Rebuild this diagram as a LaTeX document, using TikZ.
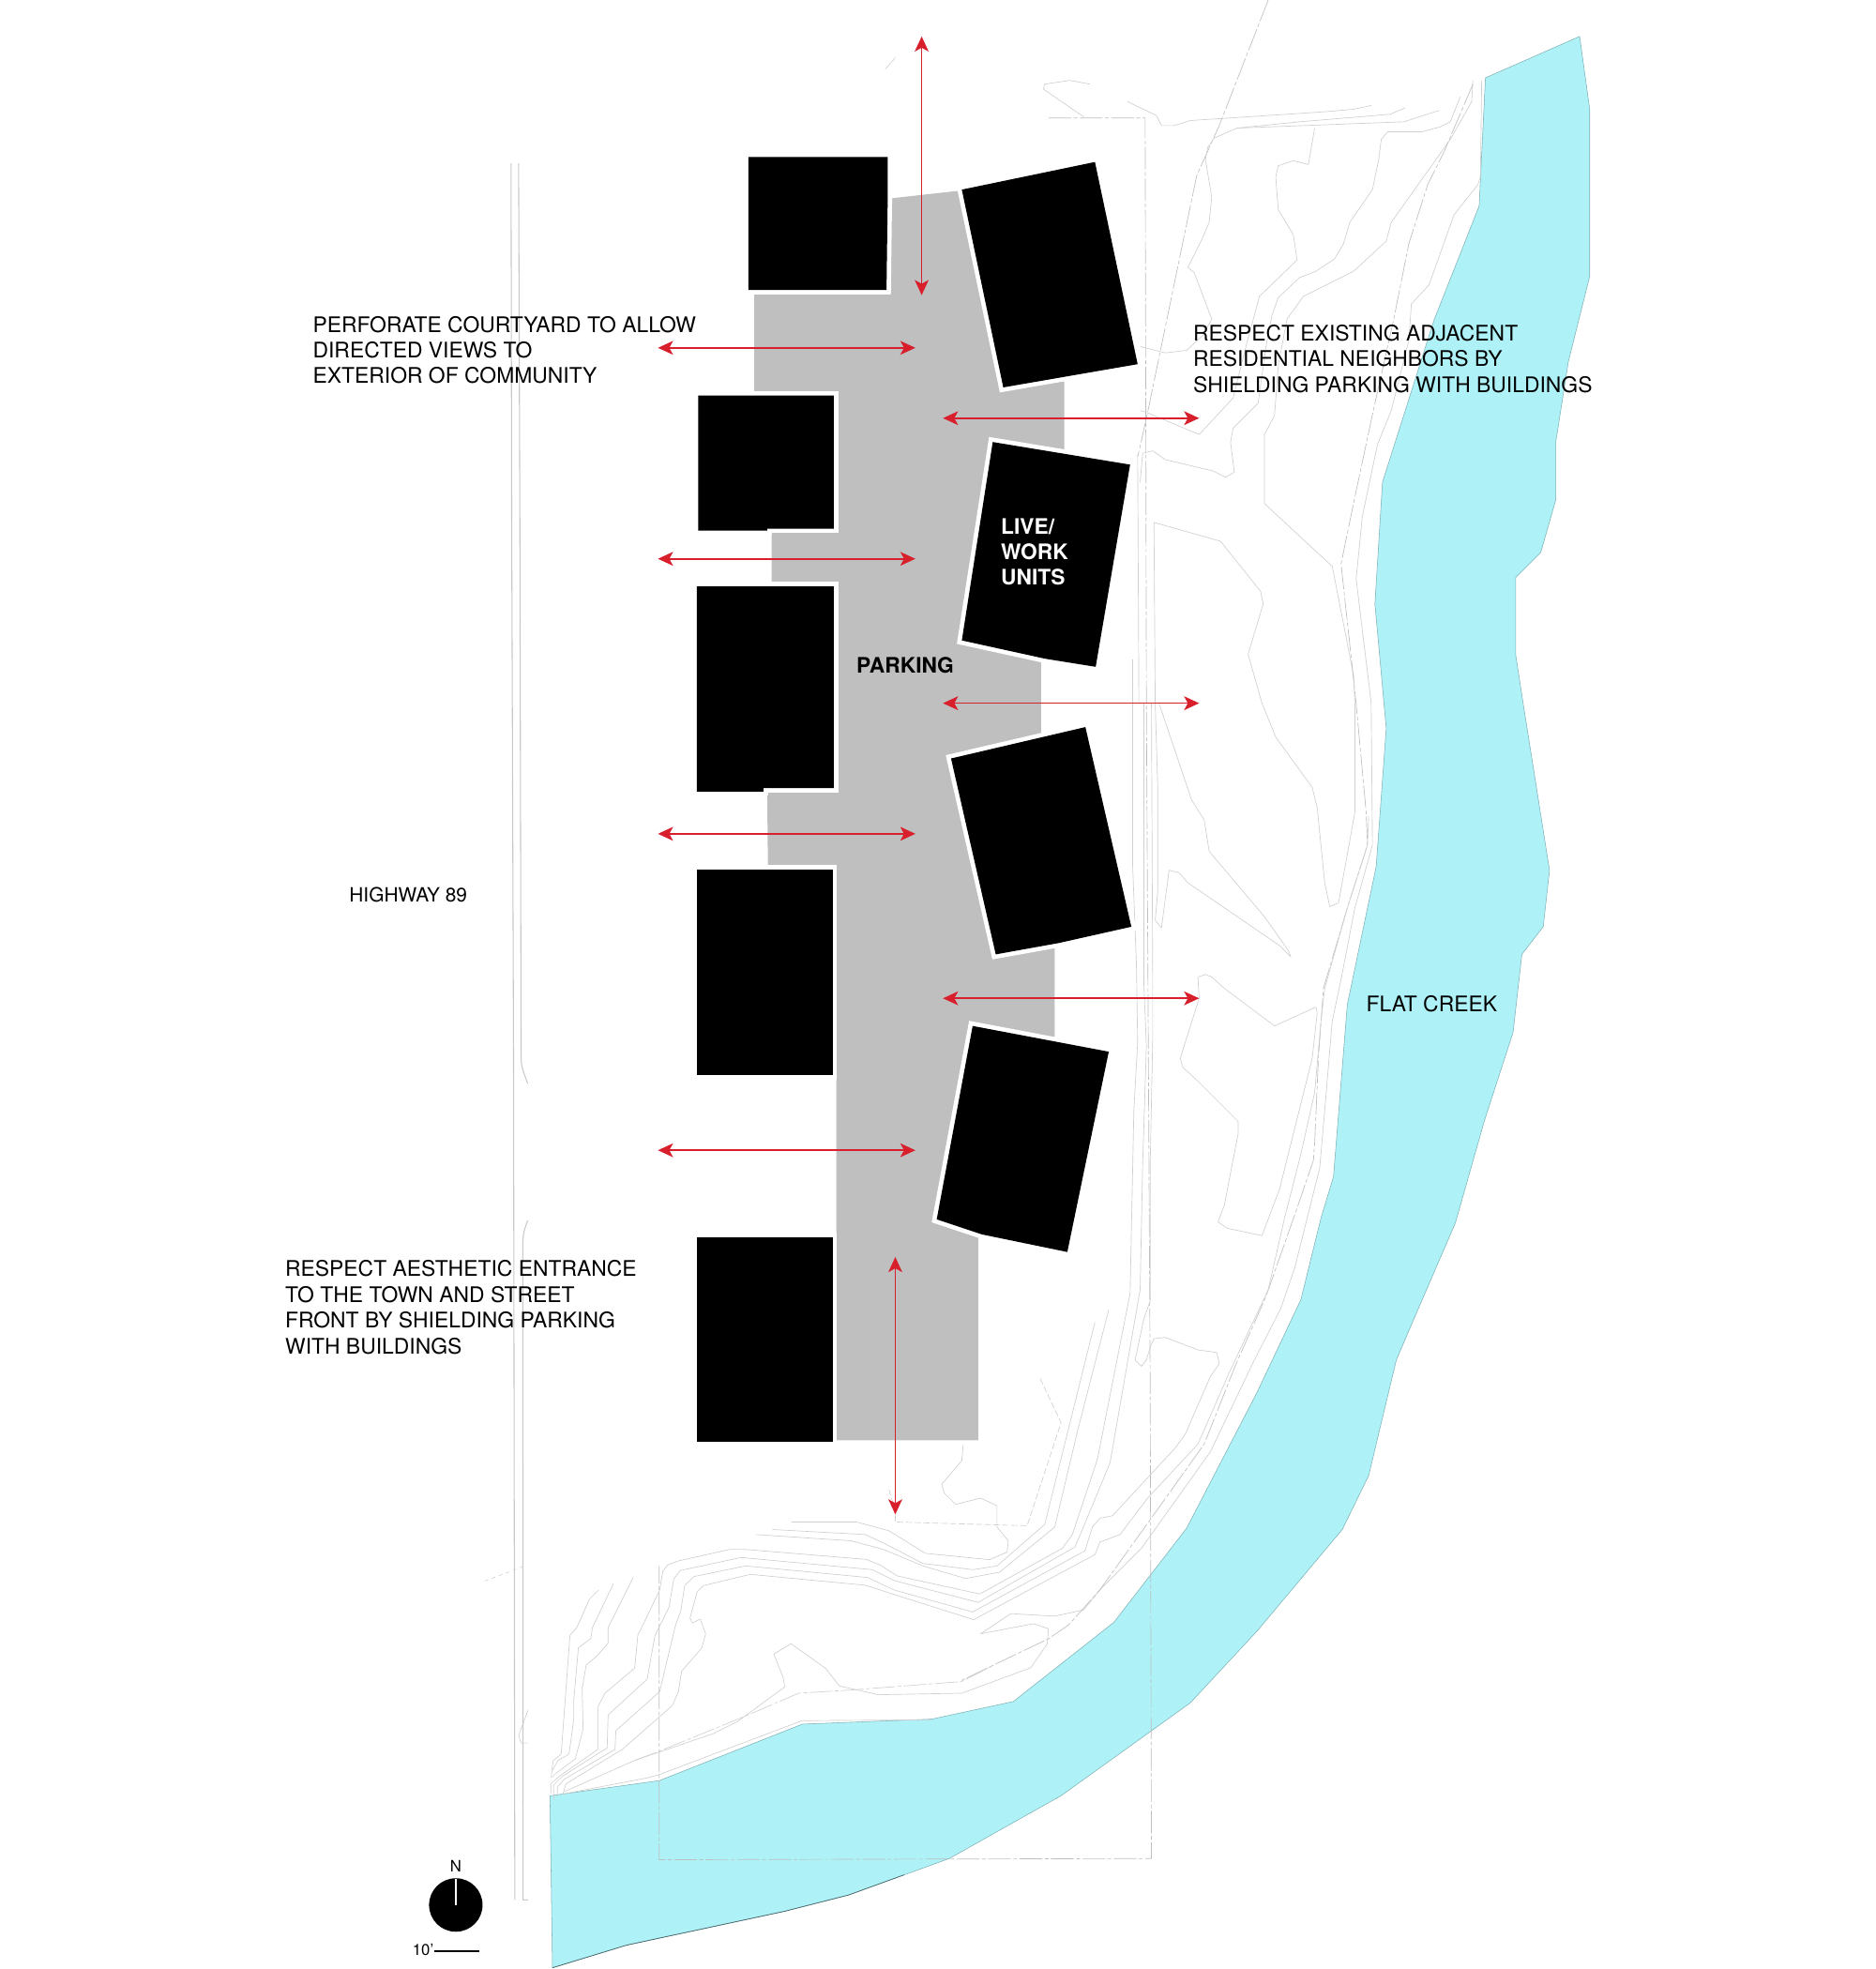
\documentclass[tikz,border=0pt]{standalone}
\usepackage{fontspec}
\usepackage{xcolor}
\usepackage{tikz}
\usetikzlibrary{arrows.meta}
\setmainfont{TeX Gyre Heros}
\definecolor{creek}{RGB}{174,242,248}
\definecolor{creekline}{RGB}{125,175,180}
\definecolor{creekdark}{RGB}{70,100,104}
\definecolor{paving}{RGB}{191,191,191}
\definecolor{contour}{RGB}{208,208,208}
\definecolor{roadline}{RGB}{200,200,200}
\definecolor{lotline}{RGB}{190,190,190}
\definecolor{viewred}{RGB}{216,32,44}
\begin{document}
\begin{tikzpicture}[x=1pt, y=-1pt,
  topo/.style={draw=contour, line width=.5pt, line join=round},
  road/.style={draw=roadline, line width=.8pt},
  lot/.style={draw=lotline, line width=.5pt, dash pattern=on 18pt off 2pt on 3pt off 2pt},
  bldg/.style={fill=black, preaction={draw=white, line width=7pt}},
  view/.style={{Stealth[length=12pt,width=11pt,inset=3pt]}-{Stealth[length=12pt,width=11pt,inset=3pt]}, viewred, line width=1.2pt},
  note/.style={inner sep=0pt, anchor=north west, align=left, font=\fontsize{17.1}{20.5}\selectfont},
  label/.style={inner sep=0pt, anchor=north west, align=left, font=\fontsize{17}{20.5}\selectfont\bfseries}]
\useasboundingbox (0,0) rectangle (1494,1568);
% creek
\fill[creek, draw=creekline, line width=.4pt] (1183,62) -- (1258,29) -- (1266,87) -- (1266,220) -- (1249,288) -- (1239,352) -- (1239,398) -- (1227,440) -- (1207,460) -- (1207,521) -- (1213,560) -- (1234,693) -- (1229,738) -- (1212,760) -- (1205,822) -- (1182,893) -- (1159,974) -- (1127,1048) -- (1112,1083) -- (1090,1175) -- (1069,1218) -- (1001,1299) -- (948,1356) -- (845,1430) -- (756,1480) -- (676,1509) -- (625,1522) -- (499,1549) -- (440,1567) -- (438,1430) -- (525,1418) -- (639,1373) -- (742,1369) -- (807,1355) -- (887,1292) -- (945,1217) -- (1001,1109) -- (1036,1035) -- (1052,970) -- (1062,937) -- (1073,800) -- (1096,690) -- (1104,580) -- (1095,481) -- (1101,384) -- (1142,255) -- (1178,164) -- cycle;
\draw[creekdark, line width=.5pt] (720,1493) -- (676,1509) -- (625,1522) -- (499,1549) -- (440,1567);
% highway
\draw[road] (407,130) -- (407.5,410) -- (409,845) -- (410,1513);
\draw[road] (413,130) -- (414,410) -- (415,844) .. controls (415.5,852) and (418,856) .. (420.3,863);
\draw[road] (420.3,972) .. controls (418,978) and (416.4,982) .. (416.4,990) -- (416.5,1513) -- (420.5,1513);
\draw[road, line width=.4pt] (420.5,1362) -- (413,1382) -- (415,1388) -- (420.5,1388);
\draw[road, line width=.4pt, dashed] (386,1259) -- (418,1247);
% site boundary
\draw[lot] (835,94) -- (912,94) -- (913,560) -- (916,1100) -- (917,1480) -- (525,1481) -- (525,1247);
\draw[lot] (1010,0) -- (971,100) -- (953,140) -- (913,333) -- (906,364);
% contours north and east
\draw[topo] (868,67) -- (852,64) -- (832,67) -- (831,71) -- (863,93);
\draw[topo] (898,81) -- (921,92) -- (925,100) -- (935,100) -- (948,96) -- (1055,89) -- (1078,87) -- (1092,84);
\draw[topo] (1146,88) -- (1118,97) -- (985,102) -- (967,110) -- (962,117) -- (960,127) -- (965,157) -- (963,177) -- (957,191) -- (946,213) -- (951,217) -- (965,254) -- (958,267) -- (945,279) -- (928,281) -- (908,276);
\draw[topo] (1119,86) -- (1107,91) -- (1035,97) -- (985,102);
\draw[topo] (1163,77) -- (1155,97) -- (1147,101) -- (1132,105) -- (1105,105) -- (1100,111) -- (1098,127) -- (1093,151) -- (1075,177) -- (1070,194) -- (1063,206) -- (1048,216) -- (1035,221) -- (1018,237) -- (1013,251) -- (1008,277) -- (1002,321) -- (982,341) -- (980,352) -- (983,376) -- (976,380) -- (966,375) -- (928,366) -- (918,359) -- (910,361) -- (908,384);
\draw[topo] (1047,102) -- (1042,131) -- (1030,128) -- (1018,132) -- (1016,141) -- (1018,167) -- (1030,187) -- (1033,207) -- (1003,236) -- (992,277) -- (982,317) -- (955,346) -- (912,328) -- (908,327);
\draw[topo] (1173,64) -- (1172,81) -- (1155,111) -- (1108,177) -- (1104,192) -- (1078,216) -- (1038,236) -- (1025,254) -- (1018,291) -- (1015,331) -- (1007,346) -- (1007,401) -- (1035,427) -- (1061,451) -- (1078,538) -- (1079,560) -- (1079,647) -- (1066,719) -- (1059,722) -- (1055,703) -- (1049,643) -- (1045,627) -- (1016,587) -- (1005,560) -- (994,521) -- (1006,481) -- (1004,471) -- (992,456) -- (972,431) -- (919,416) -- (920,560) -- (922,627) -- (922,710) -- (920,733) -- (925,739) -- (931,693) -- (939,695) -- (946,703) -- (1019,753) -- (1028,762) -- (1026,757) -- (1007,730) -- (963,678) -- (959,653) -- (949,637) -- (923,560);
\draw[topo] (954,778) -- (960,776) -- (965,778) -- (975,787) -- (1015,817) -- (1048,802) -- (1049,807) -- (1045,843) -- (1019,947) -- (1005,984) -- (977,978) -- (970,973) -- (975,960) -- (986,903) -- (986,893) -- (953,860) -- (942,850) -- (940,843) -- (943,833) -- (955,795) -- cycle;
% shore band
\draw[topo] (1180,64) -- (1179,141) -- (1177,147) -- (1158,171) -- (1138,227) -- (1124,242) -- (1122,271) -- (1108,327) -- (1097,354) -- (1085,411) -- (1080,461) -- (1092,560) -- (1093,673) -- (1079,723) -- (1068,780) -- (1061,813) -- (1055,884) -- (1051,930) -- (1031,1010) -- (1020,1042) -- (998,1085) -- (964,1156) -- (909,1233) -- (876,1266) -- (863,1282) -- (840,1287) -- (805,1285) -- (781,1301) -- (823,1293) -- (835,1297) -- (834,1309) -- (821,1328) -- (767,1348);
\draw[lot] (1173,67) -- (1150,121) -- (1137,147) -- (1122,194) -- (1110,254) -- (1095,321) -- (1080,391) -- (1068,449) -- (1080,560) -- (1088,647) -- (1089,673) -- (1073,723) -- (1054,787) -- (1050,842) -- (1047,910) -- (1046,924) -- (1033,962) -- (1008,1033) -- (984,1087) -- (959,1150) -- (914,1213) -- (876,1266) -- (851,1294) -- (835,1305) -- (764,1339);
\draw[topo] (1090,650) -- (1089,673) -- (1073,723) -- (1055,787) -- (1052,813) -- (1047,870) -- (1036,919) -- (1023,970) -- (1010,1027) -- (979,1093) -- (954,1150) -- (914,1193) -- (892,1222) -- (876,1228) -- (872,1238) -- (775,1290);
\draw[topo] (902,525) -- (902,688) -- (905,767) -- (906,830) -- (903,884) -- (900,1030) -- (874,1162) -- (854,1222) -- (846,1233) -- (781,1269);
\draw[topo] (911,560) -- (911,784) -- (913,833) -- (910,927) -- (908,1027) -- (884,1165) -- (862,1218) -- (856,1232) -- (779,1276);
\draw[topo] (917,560) -- (918,784) -- (918,827) -- (916,927) -- (916,1036) -- (911,1050) -- (904,1083) -- (909,1088) -- (913,1083) -- (916,1073) -- (919,1066) -- (928,1065) -- (954,1075) -- (969,1077) -- (971,1086) -- (964,1096) -- (944,1142) -- (936,1153) -- (886,1207) -- (876,1209) -- (870,1216) -- (864,1235) -- (774,1284);
\draw[topo] (906,362) -- (907,560);
% contours south
\draw[topo] (630,1212) -- (682,1212) -- (708,1219) -- (737,1237) -- (788,1242) -- (802,1236) -- (803,1227) -- (794,1216) -- (794,1199) -- (781,1193) -- (761,1198) -- (752,1189) -- (750,1182) -- (766,1163) -- (767,1151);
\draw[topo] (615,1218) -- (689,1222) -- (704,1229) -- (735,1245) -- (775,1250) -- (794,1247) -- (832,1214) -- (872,1053);
\draw[topo] (602,1222) -- (678,1227) -- (704,1234) -- (735,1247) -- (769,1257) -- (796,1252) -- (840,1216) -- (858,1140) -- (883,1043);
\draw[lot, dash pattern=on 5pt off 2pt, draw=contour] (708,1186) -- (713,1204) -- (713,1212) -- (818,1215) -- (845,1133) -- (828,1097);
\draw[topo] (705,55) -- (713,46);
\begin{scope}[shift={(418.3,1195.2)}, scale=.249]
\draw[topo] (235,285) -- (205,315) -- (165,405) -- (143,430) -- (115,810) -- (90,830) -- (85,860);
\draw[topo] (282,265) -- (215,405) -- (210,440) -- (170,470) -- (155,640) -- (155,700) -- (140,810) -- (105,830) -- (85,865) -- (83,885);
\draw[topo] (345,245) -- (265,405) -- (265,455) -- (230,495) -- (195,525) -- (182,600) -- (185,730) -- (160,825) -- (100,870) -- (85,885);
\draw[topo] (1455,298) -- (1190,240) -- (1135,205) -- (1090,187) -- (700,155) -- (655,155) -- (490,192) -- (455,205) -- (440,225) -- (430,285) -- (375,400) -- (360,430) -- (350,535) -- (255,615) -- (232,660) -- (232,795) -- (110,880) -- (82,905) -- (82,935);
\draw[topo] (1450,325) -- (1180,255) -- (1110,220) -- (690,181) -- (495,223) -- (475,250) -- (460,340) -- (415,430) -- (390,570) -- (265,685) -- (262,790) -- (120,880) -- (90,910) -- (92,955);
\draw[topo] (1430,355) -- (1180,285) -- (1095,245) -- (705,208) -- (540,242) -- (510,270) -- (498,350) -- (480,400) -- (430,610) -- (290,735) -- (287,795) -- (125,890) -- (103,915) -- (103,945);
\draw[topo] (1435,380) -- (1175,298) -- (1090,270) -- (720,235) -- (570,271) -- (550,290) -- (527,375) -- (535,390) -- (560,378) -- (577,425) -- (565,470) -- (500,545) -- (490,610) -- (470,655) -- (310,795) -- (130,905) -- (120,940);
\draw[topo] (118,938) -- (395,885) -- (430,875) -- (885,703) -- (1300,700);
\draw[topo] (125,930) -- (350,830) -- (600,745) -- (680,705) -- (830,595) -- (825,565) -- (795,490) -- (850,457) -- (960,535) -- (1005,592) -- (1130,620) -- (1400,615);
\draw[lot, draw=contour] (350,830) -- (430,800) -- (700,690) -- (875,615) -- (1040,605) -- (1395,578) -- (1500,525);
\end{scope}
% parking
\fill[paving] (709,158) -- (763,152) -- (799,311) -- (847.6,303.5) -- (847.6,358) -- (829,525.6) -- (829,581.6) -- (840,754.4) -- (840,827) -- (779,985) -- (779,1147) -- (666,1147) -- (666,692) -- (611.6,691) -- (611,631) -- (667,631) -- (667,465) -- (614.5,465) -- (614.5,424) -- (667,424) -- (667,312.5) -- (600.6,312.5) -- (600.6,234.4) -- (709,234.4) -- cycle;
% buildings
\path[bldg] (596,125) -- (707,125) -- (707,155) -- (706,231) -- (596,231) -- cycle;
\path[bldg] (766,151) -- (872,129) -- (906,290) -- (851,299.5) -- (799,308.5) -- cycle;
\path[bldg] (556,315) -- (664,315) -- (664,421) -- (611,421) -- (611,422.5) -- (556,422.5) -- cycle;
\path[bldg] (555,467) -- (664,467) -- (664,627.6) -- (608,627.6) -- (608,630.3) -- (555,630.3) -- cycle;
\path[bldg] (555,692.3) -- (663,692.3) -- (663,856) -- (555,856) -- cycle;
\path[bldg] (555,985) -- (663,985) -- (663,1148) -- (555,1148) -- cycle;
\path[bldg] (790.6,352) -- (900,370) -- (872.6,531) -- (832.6,524.6) -- (766,510) -- cycle;
\path[bldg] (757.4,604) -- (864.4,579) -- (901,738) -- (843,751) -- (793,760) -- cycle;
\path[bldg] (774.6,817) -- (883,837.5) -- (850,997) -- (782,983) -- (746,971) -- cycle;
% view arrows
\coordinate (northT) at (734,29);
\coordinate (northB) at (734,235);
\coordinate (westA) at (524,277);
\coordinate (westAe) at (729,277);
\coordinate (eastA) at (751,333);
\coordinate (eastAe) at (955,333);
\coordinate (westB) at (524,445);
\coordinate (westBe) at (729,445);
\coordinate (eastB) at (751,560);
\coordinate (eastBe) at (955,560);
\coordinate (westC) at (524,664);
\coordinate (westCe) at (729,664);
\coordinate (eastC) at (751,795);
\coordinate (eastCe) at (955,795);
\coordinate (westD) at (524,916);
\coordinate (westDe) at (729,916);
\coordinate (southT) at (713,1001);
\coordinate (southB) at (713,1206);
\draw[view] (northT) -- (northB);
\draw[view] (westA) -- (westAe);
\draw[view] (eastA) -- (eastAe);
\draw[view] (westB) -- (westBe);
\draw[view] (eastB) -- (eastBe);
\draw[view] (westC) -- (westCe);
\draw[view] (eastC) -- (eastCe);
\draw[view] (westD) -- (westDe);
\draw[view] (southT) -- (southB);
% text
\node[note] (perforate) at (249,251.5) {PERFORATE COURTYARD TO ALLOW\\DIRECTED VIEWS TO\\EXTERIOR OF COMMUNITY};
\node[note] (neighbors) at (950,258.5) {RESPECT EXISTING ADJACENT\\RESIDENTIAL NEIGHBORS BY\\SHIELDING PARKING WITH BUILDINGS};
\node[note] (entrance) at (227,1003.5) {RESPECT AESTHETIC ENTRANCE\\TO THE TOWN AND STREET\\FRONT BY SHIELDING PARKING\\WITH BUILDINGS};
\node[note, font=\fontsize{15.6}{18}\selectfont] (highway) at (278,706.5) {HIGHWAY 89};
\node[note] (flat) at (1088,792.5) {FLAT CREEK};
\node[label, text=white] (live) at (797,412.5) {LIVE/\\WORK\\UNITS};
\node[label] (parking) at (682,523.5) {PARKING};
% north mark and scale
\node[circle, fill=black, minimum size=42.6pt, inner sep=0pt] (compass) at (363,1517) {};
\coordinate (needle) at (363,1496);
\draw[white, line width=1.5pt] (needle) -- (compass.center);
\node[font=\fontsize{12.5}{13}\selectfont, inner sep=0pt] (north) at (363,1486) {N};
\node[font=\fontsize{12.5}{13}\selectfont, inner sep=0pt, anchor=east] (ten) at (345.5,1553) {10'};
\coordinate (barend) at (382,1553.7);
\draw[line width=1.5pt] (ten.east |- barend) -- (barend);
\end{tikzpicture}
\end{document}
